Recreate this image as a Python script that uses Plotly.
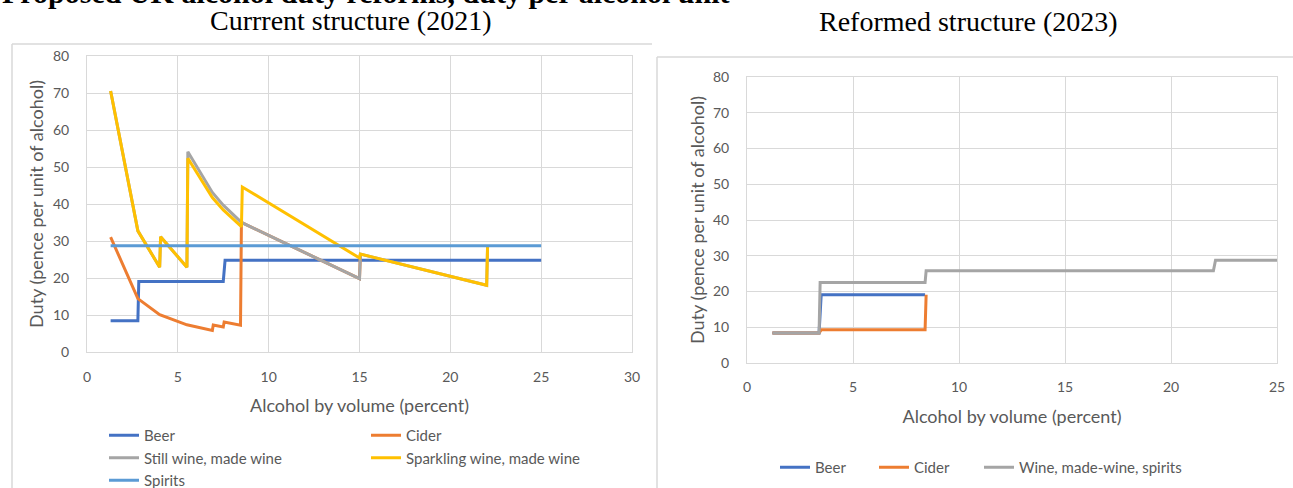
import plotly.graph_objects as go

W, H = 1293, 488

# ---- Current structure (2021): ABV breakpoints (%) and duty (pence per unit of alcohol)
beer_abv_2021 = [1.3, 2.8, 2.85, 7.5, 7.6, 25.0]
beer_duty_2021 = [8.42, 8.42, 19.08, 19.08, 24.77, 24.77]

cider_abv_2021 = [1.3, 2.8, 4.0, 5.5, 6.9, 6.95, 7.5, 7.55, 8.45, 8.5, 15.0, 15.05]
cider_duty_2021 = [31.06, 14.42, 10.10, 7.34, 5.85, 7.30, 6.76, 8.08, 7.22, 35.01, 19.84, 26.45]

still_abv_2021 = [1.3, 2.8, 4.0, 4.05, 5.5, 5.55, 6.9, 7.5, 8.5, 15.0, 15.05, 22.0, 22.05]
still_duty_2021 = [70.52, 32.74, 22.92, 31.13, 22.92, 54.10, 43.13, 39.68, 35.01, 19.84, 26.45, 18.03, 28.74]

sparkling_abv_2021 = [1.3, 2.8, 4.0, 4.05, 5.5, 5.55, 6.9, 7.5, 8.5, 8.55, 15.0, 15.05, 22.0, 22.05]
sparkling_duty_2021 = [70.52, 32.74, 22.92, 31.13, 22.92, 52.38, 41.75, 38.41, 33.89, 44.58, 25.41, 26.45, 18.03, 28.74]

spirits_abv_2021 = [1.3, 25.0]
spirits_duty_2021 = [28.74, 28.74]

# ---- Reformed structure (2023)
beer_abv_2023 = [1.2, 3.4, 3.5, 8.4]
beer_duty_2023 = [8.42, 8.42, 19.08, 19.08]

cider_abv_2023 = [1.2, 3.4, 3.5, 8.4, 8.45]
cider_duty_2023 = [8.42, 8.42, 9.27, 9.27, 19.08]

wine_abv_2023 = [1.2, 3.4, 3.45, 8.4, 8.45, 22.0, 22.1, 25.0]
wine_duty_2023 = [8.42, 8.42, 22.5, 22.5, 25.78, 25.78, 28.74, 28.74]

BLUE = "#4472C4"
ORANGE = "#ED7D31"
GREY = "#A5A5A5"
GOLD = "#FFC000"
LIGHTBLUE = "#5B9BD5"

TXT = "#595959"
GRID = "#D9D9D9"
SANS = "Lato, Carlito, Calibri, sans-serif"
SERIF = "Liberation Serif, Times New Roman, serif"


def px_x(v):
    return v / W


def px_y(v):
    return 1 - v / H


def line_trace(x, y, name, color, legend, xa="x", ya="y"):
    return go.Scatter(
        x=x, y=y, name=name, mode="lines",
        line=dict(color=color, width=3),
        legend=legend, xaxis=xa, yaxis=ya,
        hoverinfo="x+y+name",
    )


fig = go.Figure()
fig.add_trace(line_trace(beer_abv_2021, beer_duty_2021, "Beer", BLUE, "legend"))
fig.add_trace(line_trace(cider_abv_2021, cider_duty_2021, "Cider", ORANGE, "legend2"))
fig.add_trace(line_trace(still_abv_2021, still_duty_2021, "Still wine, made wine", GREY, "legend"))
fig.add_trace(line_trace(sparkling_abv_2021, sparkling_duty_2021, "Sparkling wine, made wine", GOLD, "legend2"))
fig.add_trace(line_trace(spirits_abv_2021, spirits_duty_2021, "Spirits", LIGHTBLUE, "legend"))

fig.add_trace(line_trace(beer_abv_2023, beer_duty_2023, "Beer", BLUE, "legend3", "x2", "y2"))
fig.add_trace(line_trace(cider_abv_2023, cider_duty_2023, "Cider", ORANGE, "legend3", "x2", "y2"))
fig.add_trace(line_trace(wine_abv_2023, wine_duty_2023, "Wine, made-wine, spirits", GREY, "legend4", "x2", "y2"))

axis_common = dict(
    showgrid=True, gridcolor=GRID, gridwidth=1,
    showline=True, linecolor=GRID, linewidth=1, mirror=True,
    zeroline=False, ticks="", fixedrange=True, automargin=False,
    tickfont=dict(family=SANS, size=14, color=TXT),
)
title_font = dict(family=SANS, size=18, color=TXT)

legend_common = dict(
    bgcolor="rgba(0,0,0,0)", borderwidth=0,
    font=dict(family=SANS, size=15, color=TXT),
    xanchor="left", yanchor="top", tracegroupgap=0,
)

fig.update_layout(
    width=W, height=H,
    margin=dict(l=0, r=0, t=0, b=0, autoexpand=False),
    paper_bgcolor="white", plot_bgcolor="white",
    xaxis=dict(domain=[px_x(87), px_x(632)], range=[0, 30], dtick=5, anchor="y",
               ticklabelstandoff=12,
               title=dict(text="Alcohol by volume (percent)", font=title_font, standoff=15),
               **axis_common),
    yaxis=dict(domain=[px_y(352), px_y(56)], range=[0, 80], dtick=10, anchor="x",
               ticklabelstandoff=14,
               title=dict(text="Duty (pence per unit of alcohol)", font=title_font, standoff=4),
               **axis_common),
    xaxis2=dict(domain=[px_x(747), px_x(1277)], range=[0, 25], dtick=5, anchor="y2",
                ticklabelstandoff=11,
                title=dict(text="Alcohol by volume (percent)", font=title_font, standoff=16),
                **axis_common),
    yaxis2=dict(domain=[px_y(363), px_y(77)], range=[0, 80], dtick=10, anchor="x2",
                ticklabelstandoff=14,
                title=dict(text="Duty (pence per unit of alcohol)", font=title_font, standoff=3),
                **axis_common),
    legend=dict(x=px_x(104), y=px_y(419), orientation="v", **legend_common),
    legend2=dict(x=px_x(366), y=px_y(419), orientation="v", **legend_common),
    legend3=dict(x=px_x(775), y=px_y(451), orientation="h", entrywidth=54, **legend_common),
    legend4=dict(x=px_x(979), y=px_y(451), orientation="h", **legend_common),
    showlegend=True,
)

# chart frames
frame = dict(type="line", xref="paper", yref="paper", line=dict(color=GRID, width=1.5))
fig.add_shape(x0=px_x(12), x1=px_x(652), y0=px_y(44), y1=px_y(44), **frame)
fig.add_shape(x0=px_x(12), x1=px_x(12), y0=px_y(44), y1=0, **frame)
fig.add_shape(x0=px_x(657), x1=1, y0=px_y(57), y1=px_y(57), **frame)
fig.add_shape(x0=px_x(657), x1=px_x(657), y0=px_y(57), y1=0, **frame)

# titles
fig.add_annotation(text="<b>Proposed UK alcohol duty reforms, duty per alcohol unit</b>",
                   xref="paper", yref="paper", x=0, y=px_y(-7), xanchor="left", yanchor="middle",
                   showarrow=False, font=dict(family=SERIF, size=30, color="black"))
fig.add_annotation(text="Currrent structure (2021)", xref="paper", yref="paper",
                   x=px_x(350), y=px_y(20.5), xanchor="center", yanchor="middle",
                   showarrow=False, font=dict(family=SERIF, size=28, color="black"))
fig.add_annotation(text="Reformed structure (2023)", xref="paper", yref="paper",
                   x=px_x(968), y=px_y(21.5), xanchor="center", yanchor="middle",
                   showarrow=False, font=dict(family=SERIF, size=28, color="black"))

fig.write_html("out.html")
